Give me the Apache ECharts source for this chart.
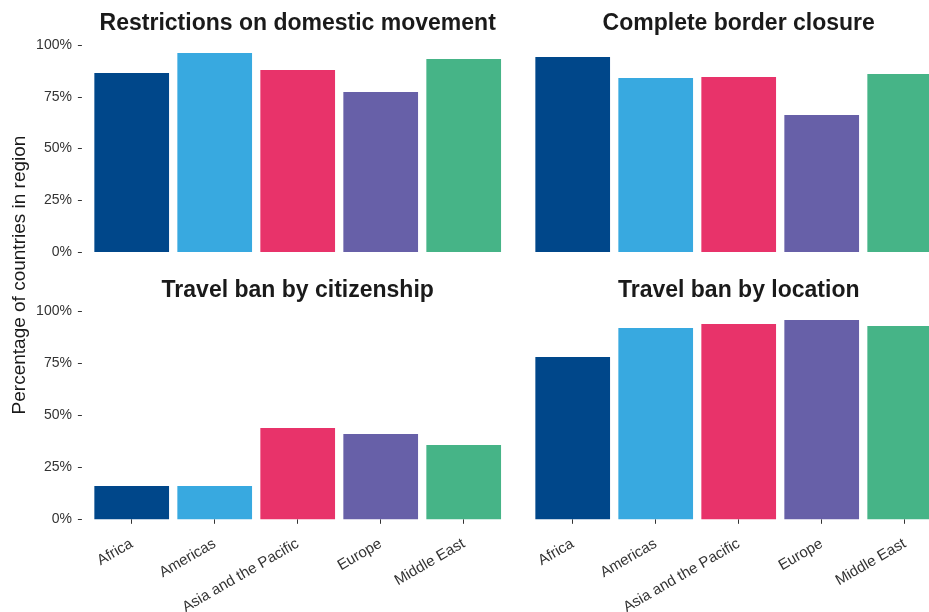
<!DOCTYPE html>
<html>
<head>
<meta charset="utf-8">
<script src="https://cdn.jsdelivr.net/npm/echarts@6/dist/echarts.min.js"></script>
<style>
  html, body { margin: 0; padding: 0; background: #fff; }
  #chart { width: 929px; height: 612px; }
</style>
</head>
<body>
<div id="chart"></div>
<script>
var regions = ['Africa', 'Americas', 'Asia and the Pacific', 'Europe', 'Middle East'];
var palette = ['#00478A', '#38A9E0', '#E8336A', '#6760A8', '#46B487'];

var panelTitles = ['Restrictions on domestic movement', 'Complete border closure',
  'Travel ban by citizenship', 'Travel ban by location'];
var domesticMovement = [0.865, 0.961, 0.879, 0.773, 0.932];
var borderClosure = [0.942, 0.841, 0.845, 0.662, 0.860];
var banByCitizenship = [0.160, 0.160, 0.439, 0.410, 0.357];
var banByLocation = [0.780, 0.920, 0.939, 0.958, 0.929];

(function() {
  var chart = echarts.init(document.getElementById('chart'));
  var font = "'Liberation Sans', Arial, sans-serif";
  var panels = [domesticMovement, borderClosure, banByCitizenship, banByLocation];
  var lefts = [90.2, 531.2, 90.2, 531.2];
  var tops = [45, 45, 311.3, 311.3];
  var heights = [207, 207, 208, 208];

  var grids = [], xAxes = [], yAxes = [], series = [], graphics = [];
  panels.forEach(function(vals, i) {
    var bottomRow = i >= 2;
    var leftCol = i % 2 === 0;
    grids.push({
      left: lefts[i], top: tops[i], width: 415, height: heights[i],
      outerBoundsMode: 'none', containLabel: false
    });
    xAxes.push({
      type: 'category',
      gridIndex: i,
      data: regions,
      offset: 10.4,
      axisLine: { show: false },
      axisTick: { show: bottomRow, length: 4.5, alignWithLabel: true, lineStyle: { color: '#333' } },
      axisLabel: {
        show: bottomRow, rotate: 30, margin: 13, interval: 0,
        fontSize: 15, color: '#333', fontFamily: font
      }
    });
    yAxes.push({
      type: 'value',
      gridIndex: i,
      min: 0, max: 1, interval: 0.25,
      offset: 8.3,
      splitLine: { show: false },
      axisLine: { show: false },
      axisTick: { show: leftCol, length: 4, lineStyle: { color: '#333' } },
      axisLabel: {
        show: leftCol, margin: 10, fontSize: 14, color: '#333', fontFamily: font,
        formatter: function(v) { return Math.round(v * 100) + '%'; }
      }
    });
    series.push({
      type: 'bar',
      xAxisIndex: i,
      yAxisIndex: i,
      data: vals,
      colorBy: 'data',
      barCategoryGap: '10%',
      silent: true
    });
    graphics.push({
      type: 'text',
      x: lefts[i] + 207.5,
      y: bottomRow ? 291 : 24,
      style: {
        text: panelTitles[i],
        textAlign: 'center',
        textVerticalAlign: 'middle',
        font: 'bold 23px ' + font,
        fill: '#1a1a1a'
      }
    });
  });

  graphics.push({
    type: 'text',
    x: 20,
    y: 275,
    rotation: Math.PI / 2,
    style: {
      text: 'Percentage of countries in region',
      textAlign: 'center',
      textVerticalAlign: 'middle',
      font: '19px ' + font,
      fill: '#1a1a1a'
    }
  });

  chart.setOption({
    animation: false,
    color: palette,
    grid: grids,
    xAxis: xAxes,
    yAxis: yAxes,
    series: series,
    graphic: graphics
  });
})();
</script>
</body>
</html>
